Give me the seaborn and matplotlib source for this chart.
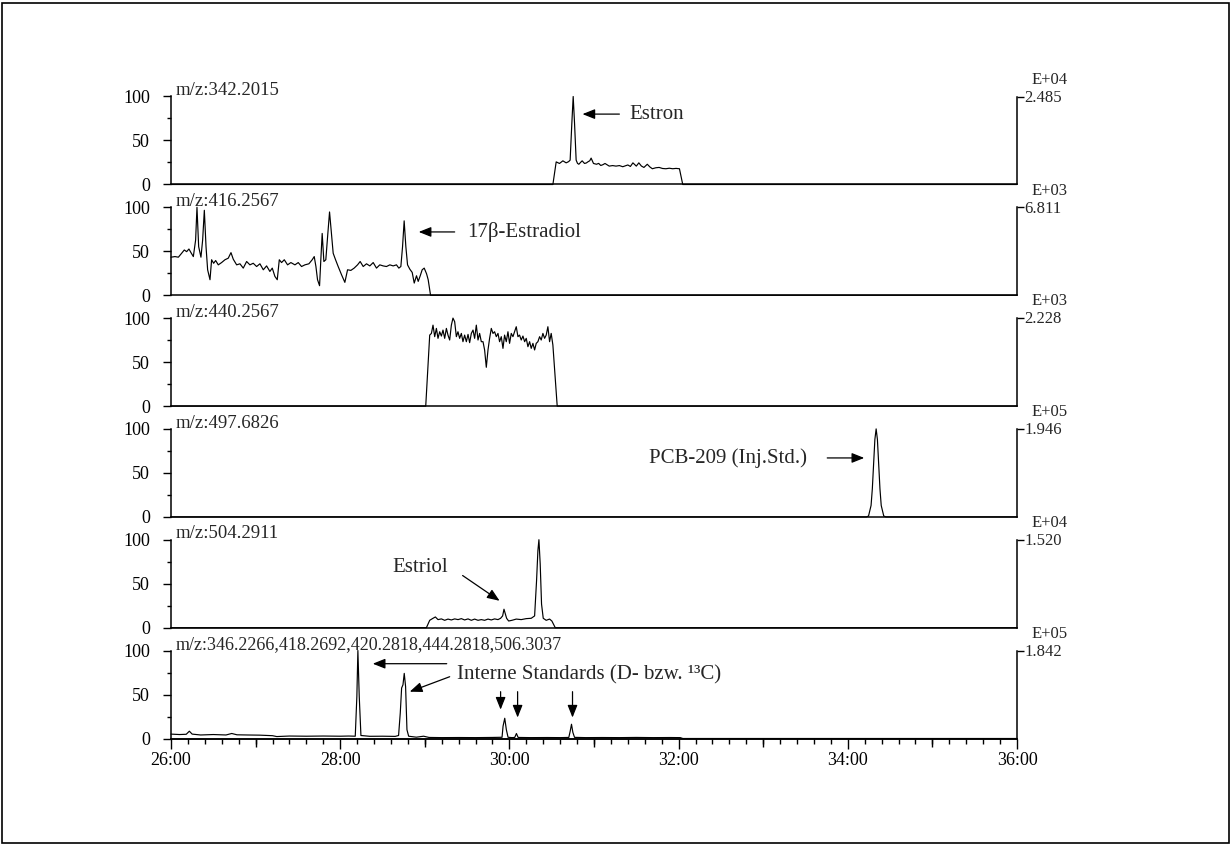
import matplotlib
matplotlib.use("Agg")
import matplotlib.pyplot as plt
from matplotlib.ticker import FixedLocator, NullFormatter
from matplotlib.patches import Rectangle
import seaborn as sns
import pandas as pd

# ---------------- data (time in minutes, relative intensity in %) ----------------
mz_labels = ["m/z:342.2015", "m/z:416.2567", "m/z:440.2567", "m/z:497.6826",
             "m/z:504.2911", "m/z:346.2266,418.2692,420.2818,444.2818,506.3037"]
exp_labels = ["E+04", "E+03", "E+03", "E+05", "E+04", "E+05"]
max_labels = ["2.485", "6.811", "2.228", "1.946", "1.520", "1.842"]

trace_342 = [(26.0, 0), (30.514, 0), (30.553, 25.7), (30.592, 23.9), (30.632, 26.9), (30.671, 24.6),
             (30.700, 26.0), (30.718, 27.7), (30.738, 69.5), (30.754, 100), (30.770, 69.5), (30.789, 27.7),
             (30.805, 24.0), (30.821, 23.0), (30.840, 25.0), (30.860, 26.9), (30.888, 23.9), (30.910, 24.5),
             (30.927, 25.7), (30.950, 27.0), (30.966, 30.0), (30.994, 23.9), (31.030, 23.0), (31.055, 24.0),
             (31.080, 21.6), (31.105, 22.5), (31.130, 23.9), (31.180, 20.9), (31.220, 21.5), (31.260, 20.9),
             (31.300, 21.5), (31.340, 20.2), (31.400, 22.2), (31.430, 20.5), (31.460, 24.6), (31.500, 20.9),
             (31.530, 24.6), (31.560, 21.0), (31.590, 19.4), (31.630, 23.0), (31.660, 20.0), (31.690, 17.9),
             (31.730, 19.0), (31.770, 19.4), (31.810, 18.2), (31.850, 17.9), (31.890, 18.5), (31.930, 17.9),
             (31.970, 18.3), (32.010, 17.9), (32.049, 0), (36.0, 0)]

trace_416 = [(26.000, 43.3), (26.047, 44.0), (26.087, 43.3), (26.126, 47.8), (26.157, 51.5), (26.185, 49.6),
             (26.212, 52.6), (26.236, 48.5), (26.264, 44.0), (26.291, 62.8), (26.307, 100), (26.327, 55.3),
             (26.354, 43.3), (26.374, 62.8), (26.394, 96.6), (26.414, 55.3), (26.433, 29.0), (26.461, 17.7),
             (26.480, 40.4), (26.504, 36.4), (26.528, 39.5), (26.559, 34.6), (26.598, 37.2), (26.638, 40.4),
             (26.677, 42.2), (26.709, 48.5), (26.736, 41.0), (26.776, 34.6), (26.815, 35.8), (26.854, 30.9),
             (26.894, 38.4), (26.933, 34.6), (26.972, 36.4), (27.012, 32.7), (27.051, 35.8), (27.091, 29.0),
             (27.130, 33.4), (27.169, 27.1), (27.197, 30.9), (27.228, 21.5), (27.256, 17.7), (27.280, 40.4),
             (27.307, 37.2), (27.339, 40.4), (27.378, 34.6), (27.417, 37.2), (27.465, 34.6), (27.504, 37.2),
             (27.543, 32.7), (27.583, 34.6), (27.630, 35.8), (27.669, 40.4), (27.693, 44.0), (27.713, 32.7),
             (27.732, 17.7), (27.756, 10.9), (27.771, 40.4), (27.787, 70.3), (27.807, 38.4), (27.830, 40.4),
             (27.854, 70.3), (27.874, 94.7), (27.893, 74.1), (27.917, 47.8), (27.945, 40.4), (27.976, 32.7),
             (28.016, 23.3), (28.055, 14.7), (28.087, 29.0), (28.126, 28.3), (28.165, 30.9), (28.205, 34.6),
             (28.236, 38.4), (28.272, 32.7), (28.311, 35.8), (28.350, 33.4), (28.390, 37.2), (28.429, 30.9),
             (28.468, 34.6), (28.508, 33.4), (28.547, 32.7), (28.587, 34.6), (28.626, 33.4), (28.665, 34.6),
             (28.693, 30.9), (28.717, 32.7), (28.737, 55.3), (28.756, 84.6), (28.776, 55.3), (28.796, 34.6),
             (28.823, 29.7), (28.851, 26.0), (28.875, 13.9), (28.902, 22.2), (28.922, 15.8), (28.946, 22.2),
             (28.969, 29.0), (28.993, 30.9), (29.021, 24.4), (29.040, 17.7), (29.068, 0), (36.0, 0)]

trace_440 = [(26.0, 0), (29.011, 0), (29.058, 80.7), (29.078, 82.6), (29.097, 92.0), (29.117, 78.9),
             (29.137, 88.3), (29.156, 77.0), (29.176, 84.5), (29.196, 79.6), (29.215, 86.4), (29.235, 77.0),
             (29.255, 88.3), (29.274, 80.7), (29.294, 75.1), (29.314, 92.0), (29.333, 100), (29.353, 95.9),
             (29.373, 78.9), (29.392, 84.5), (29.412, 77.0), (29.432, 82.6), (29.451, 73.2), (29.471, 80.7),
             (29.491, 73.2), (29.511, 81.5), (29.530, 72.1), (29.550, 82.6), (29.570, 86.4), (29.589, 77.0),
             (29.609, 92.0), (29.629, 75.1), (29.648, 82.6), (29.668, 73.2), (29.688, 73.2), (29.707, 63.8),
             (29.727, 44.1), (29.747, 63.8), (29.766, 77.0), (29.786, 88.3), (29.806, 82.6), (29.825, 84.5),
             (29.845, 78.9), (29.865, 82.6), (29.884, 73.2), (29.904, 78.9), (29.924, 65.6), (29.943, 80.7),
             (29.963, 73.2), (29.983, 84.5), (30.002, 71.3), (30.022, 82.6), (30.042, 78.9), (30.061, 84.5),
             (30.081, 90.2), (30.101, 78.9), (30.120, 80.7), (30.140, 75.1), (30.160, 79.6), (30.180, 73.2),
             (30.199, 77.0), (30.219, 67.5), (30.239, 73.2), (30.258, 65.6), (30.278, 71.3), (30.298, 63.8),
             (30.317, 71.3), (30.337, 73.2), (30.357, 78.9), (30.376, 75.1), (30.396, 82.6), (30.416, 77.0),
             (30.435, 80.7), (30.455, 90.2), (30.475, 73.2), (30.494, 82.6), (30.514, 69.4), (30.565, 0),
             (36.0, 0)]

trace_497 = [(26.0, 0), (34.220, 0), (34.245, 1), (34.275, 13), (34.290, 32), (34.305, 60), (34.320, 88),
             (34.335, 100), (34.350, 88), (34.365, 60), (34.380, 32), (34.395, 13), (34.425, 1), (34.450, 0),
             (36.0, 0)]

trace_504 = [(26.0, 0), (29.019, 0), (29.058, 8.4), (29.097, 10.7), (29.125, 12.2), (29.156, 9.2),
             (29.196, 10.0), (29.235, 8.4), (29.274, 9.8), (29.314, 8.8), (29.353, 10.0), (29.393, 9.2),
             (29.432, 10.3), (29.471, 8.8), (29.511, 10.0), (29.550, 8.4), (29.589, 9.8), (29.629, 8.4),
             (29.668, 9.2), (29.707, 8.4), (29.747, 9.8), (29.786, 8.8), (29.825, 10.0), (29.865, 9.2),
             (29.896, 10.7), (29.920, 13.4), (29.936, 21.0), (29.951, 16.0), (29.967, 10.7), (29.991, 7.6),
             (30.030, 8.4), (30.081, 9.8), (30.140, 9.2), (30.199, 10.3), (30.258, 10.7), (30.298, 13.4),
             (30.321, 53.4), (30.337, 87.8), (30.349, 100), (30.364, 72.5), (30.380, 26.8), (30.400, 10.7),
             (30.435, 8.4), (30.475, 9.8), (30.502, 7.6), (30.542, 0), (36.0, 0)]

trace_istd = [(26.000, 5.0), (26.100, 4.5), (26.180, 4.8), (26.217, 8.3), (26.250, 5.0), (26.350, 4.0),
              (26.500, 4.5), (26.650, 4.0), (26.718, 5.7), (26.780, 4.2), (26.900, 4.0), (27.050, 3.8),
              (27.200, 3.2), (27.250, 2.2), (27.400, 2.8), (27.600, 2.6), (27.800, 2.8), (28.000, 2.6),
              (28.100, 2.8), (28.178, 2.6), (28.197, 48.0), (28.209, 100), (28.225, 48.0), (28.245, 3.4),
              (28.350, 2.5), (28.500, 2.6), (28.650, 2.4), (28.690, 3.4), (28.710, 29.0), (28.726, 57.4),
              (28.742, 61.0), (28.757, 74.0), (28.773, 59.0), (28.789, 10.0), (28.809, 2.6), (28.900, 1.5),
              (28.986, 2.6), (29.050, 1.2), (29.200, 1.0), (29.400, 1.1), (29.600, 1.0), (29.800, 1.2),
              (29.913, 1.4), (29.925, 14.0), (29.945, 23.0), (29.964, 10.0), (29.984, 1.4), (30.030, 1.0),
              (30.063, 1.2), (30.083, 5.7), (30.103, 1.2), (30.250, 1.0), (30.450, 1.1), (30.600, 1.0),
              (30.702, 1.2), (30.718, 8.0), (30.734, 16.2), (30.750, 7.0), (30.770, 1.3), (30.900, 1.0),
              (31.100, 1.1), (31.300, 1.0), (31.500, 1.2), (31.700, 1.0), (31.900, 1.1), (32.020, 1.0),
              (32.050, 0), (36.0, 0)]

traces = [trace_342, trace_416, trace_440, trace_497, trace_504, trace_istd]

y_ticks = [0, 50, 100]
y_ticklabels = ["0", "50", "100"]
x_ticks = [26, 28, 30, 32, 34, 36]
x_ticklabels = ["26:00", "28:00", "30:00", "32:00", "34:00", "36:00"]

# ---------------- style ----------------
sns.set_style("ticks")
plt.rcParams['font.family'] = ['Liberation Serif', 'DejaVu Serif']
plt.rcParams['axes.linewidth'] = 1.1
plt.rcParams['axes.edgecolor'] = 'black'
plt.rcParams['xtick.color'] = 'black'
plt.rcParams['ytick.color'] = 'black'

W, H = 1231, 846
fig = plt.figure(figsize=(W / 100, H / 100), dpi=100)
fig.patch.set_facecolor('white')

LEFT, RIGHT = 171, 1017
TOP0, STEP, PH = 96.5, 110.8, 88.0

axes = []
for i, tr in enumerate(traces):
    top = TOP0 + STEP * i
    ax = fig.add_axes([LEFT / W, 1 - (top + PH) / H, (RIGHT - LEFT) / W, PH / H])
    ax.set_facecolor('none')
    df = pd.DataFrame(tr, columns=["time", "intensity"])
    sns.lineplot(data=df, x="time", y="intensity", ax=ax, color="black", lw=0.85,
                 sort=False, estimator=None, clip_on=False)
    ax.set_xlim(26, 36)
    ax.set_ylim(0, 100)
    ax.set_xlabel("")
    ax.set_ylabel("")
    ax.spines['top'].set_visible(False)
    ax.spines['right'].set_visible(False)
    # left axis
    ax.set_yticks(y_ticks)
    ax.set_yticklabels(y_ticklabels)
    ax.yaxis.set_minor_locator(FixedLocator([25, 75]))
    ax.tick_params(axis='y', which='major', length=6, width=1.0, direction='out', labelsize=13, pad=9)
    ax.tick_params(axis='y', which='minor', length=3, width=1.0, direction='out')
    # right scale bracket
    sec = ax.secondary_yaxis('right')
    sec.set_yticks([100])
    sec.set_yticklabels([""])
    sec.tick_params(length=5, width=1.0, direction='out')
    ax.annotate(max_labels[i], xy=(1, 100), xycoords=('axes fraction', 'data'),
                xytext=(5.5, -1), textcoords='offset points', fontsize=12, ha='left', va='center')
    ax.annotate(exp_labels[i], xy=(1, 100), xycoords=('axes fraction', 'data'),
                xytext=(10.5, 12), textcoords='offset points', fontsize=12, ha='left', va='center')
    # trace label
    fs = 13.5 if i < 5 else 13.0
    ax.annotate(mz_labels[i], xy=(0, 100), xycoords=('axes fraction', 'data'),
                xytext=(3.5, 1), textcoords='offset points', fontsize=fs, ha='left', va='baseline')
    if i < 5:
        ax.tick_params(axis='x', which='both', bottom=False, labelbottom=False)
    else:
        ax.set_xticks(x_ticks)
        ax.set_xticklabels(x_ticklabels)
        ax.xaxis.set_minor_locator(FixedLocator([26 + 0.2 * k for k in range(51)]))
        ax.tick_params(axis='x', which='major', length=7, width=1.0, direction='out', labelsize=13, pad=3)
        ax.tick_params(axis='x', which='minor', length=3.5, width=1.0, direction='out')
        sx = ax.secondary_xaxis('bottom')
        sx.set_xticks([27, 29, 31, 33, 35])
        sx.xaxis.set_major_formatter(NullFormatter())
        sx.tick_params(length=5.5, width=1.0, direction='out')
    axes.append(ax)

# ---------------- annotations ----------------
arrow = dict(arrowstyle='-|>,head_length=0.75,head_width=0.3', color='black', lw=0.9,
             shrinkA=0, shrinkB=0, mutation_scale=10)
TFS = 15

ax = axes[0]
ax.annotate('', xy=(30.864, 80), xytext=(31.30, 80), arrowprops=arrow, annotation_clip=False)
ax.text(31.42, 80, "Estron", fontsize=TFS, ha='left', va='center')

ax = axes[1]
ax.annotate('', xy=(28.928, 72), xytext=(29.353, 72), arrowprops=arrow, annotation_clip=False)
ax.text(29.495, 72, "17β-Estradiol", fontsize=TFS, ha='left', va='center')

ax = axes[3]
ax.annotate('', xy=(34.194, 67), xytext=(33.757, 67), arrowprops=arrow, annotation_clip=False)
ax.text(33.52, 67, "PCB-209 (Inj.Std.)", fontsize=TFS, ha='right', va='center')

ax = axes[4]
ax.annotate('', xy=(29.884, 30.6), xytext=(29.447, 59.3), arrowprops=arrow, annotation_clip=False)
ax.text(28.621, 68.5, "Estriol", fontsize=TFS, ha='left', va='center')

ax = axes[5]
ax.text(29.377, 72.7, "Interne Standards (D- bzw. ¹³C)", fontsize=TFS, ha='left', va='center')
ax.annotate('', xy=(28.385, 85), xytext=(29.259, 85), arrowprops=arrow, annotation_clip=False)
ax.annotate('', xy=(28.822, 53.2), xytext=(29.294, 70.2), arrowprops=arrow, annotation_clip=False)
ax.annotate('', xy=(29.896, 32.8), xytext=(29.896, 53.2), arrowprops=arrow, annotation_clip=False)
ax.annotate('', xy=(30.097, 23.8), xytext=(30.097, 53.2), arrowprops=arrow, annotation_clip=False)
ax.annotate('', xy=(30.746, 23.8), xytext=(30.746, 53.2), arrowprops=arrow, annotation_clip=False)

# figure border
fig.patches.append(Rectangle((2 / W, 3 / H), 1227 / W, 840 / H, transform=fig.transFigure,
                             fill=False, edgecolor='black', lw=1.2))

fig.savefig("out.png", dpi=100, facecolor='white')
